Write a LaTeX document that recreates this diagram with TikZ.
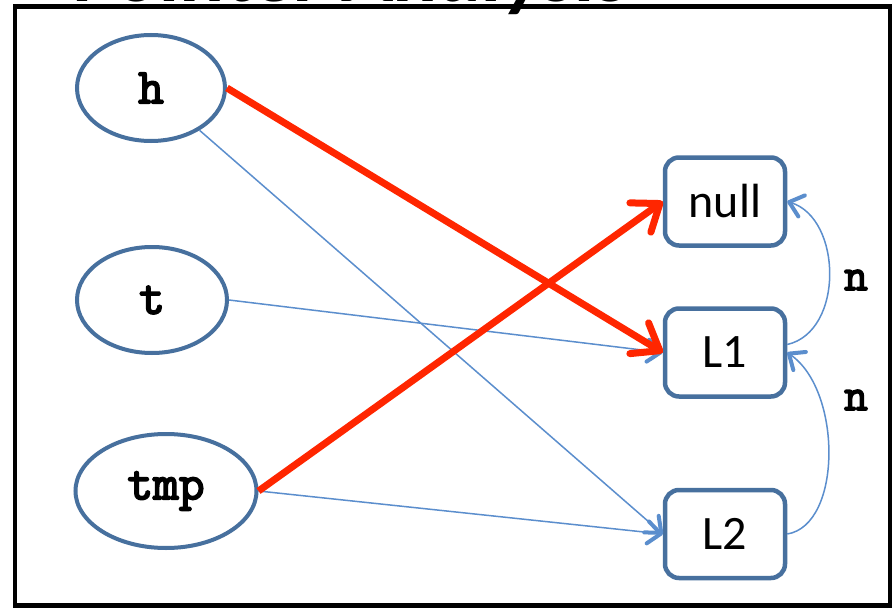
\documentclass[tikz,border=0pt]{standalone}
\usepackage{fontspec}
\setmainfont{Carlito}
\newfontfamily\codefont[FakeBold=3.5]{Latin Modern Mono}
\usetikzlibrary{arrows.meta,shapes.geometric}

\definecolor{nodeblue}{RGB}{71,112,158}
\definecolor{linkblue}{RGB}{91,142,205}
\definecolor{pathred}{RGB}{255,38,0}

\begin{document}
\begin{tikzpicture}[x=1pt,y=-1pt,
  var/.style={ellipse, draw=nodeblue, line width=4pt, inner sep=0pt,
    font=\codefont\fontsize{50}{50}\selectfont},
  cell/.style={draw=nodeblue, line width=4.5pt, rounded corners=14pt,
    minimum width=120pt, minimum height=88pt, inner sep=0pt,
    font=\fontsize{48}{48}\selectfont},
  fieldlabel/.style={inner sep=0pt, font=\codefont\fontsize{46}{46}\selectfont},
  redarrow/.style={draw=pathred, line width=7pt,
    -{Straight Barb[length=24pt, width=36pt, line width=7pt, round]}},
  bluearrow/.style={draw=linkblue, line width=1.5pt,
    -{Straight Barb[length=13pt, width=22pt, line width=4pt, round]}}
]
\useasboundingbox (0,0) rectangle (895,610);
\fill[white] (0,0) rectangle (895,610);

% title running off the top edge
\begin{scope}
  \clip (0,0) rectangle (895,610);
  \node[anchor=base west, inner sep=0pt,
        font=\bfseries\itshape\fontsize{84}{84}\selectfont] (title) at (74,2) {Pointer Analysis};
\end{scope}

% frame
\draw[line width=4.5pt] (15,6.5) rectangle (890,605.5);

% variables
\node[var, minimum width=148pt, minimum height=106pt] (h) at (151,88) {h};
\node[var, minimum width=150pt, minimum height=106pt] (t) at (152,300) {t};
\node[var, minimum width=181pt, minimum height=114pt] (tmp) at (166,491) {tmp};

% heap cells
\node[cell] (null) at (725,201.5) {null};
\node[cell] (L1) at (725,352.5) {L1};
\node[cell] (L2) at (725,534) {L2};

% may-point-to edges
\draw[bluearrow] (h) -- (L2.west);
\draw[bluearrow] (t.east) -- (L1.west);
\draw[bluearrow] (tmp.east) -- (L2.west);

% n-field edges
\draw[bluearrow] (L2.east) .. controls +(55,-9) and +(55,38) .. (L1.east);
\draw[bluearrow] ([yshift=8pt]L1.east) .. controls +(57,-13) and +(55,17) .. (null.east);
\node[fieldlabel] (n1) at (856,280) {n};
\node[fieldlabel] (n2) at (856,400) {n};

% must-point-to edges
\draw[redarrow] (h.east) -- (L1.west);
\draw[redarrow] (tmp.east) -- (null.west);
\end{tikzpicture}
\end{document}
